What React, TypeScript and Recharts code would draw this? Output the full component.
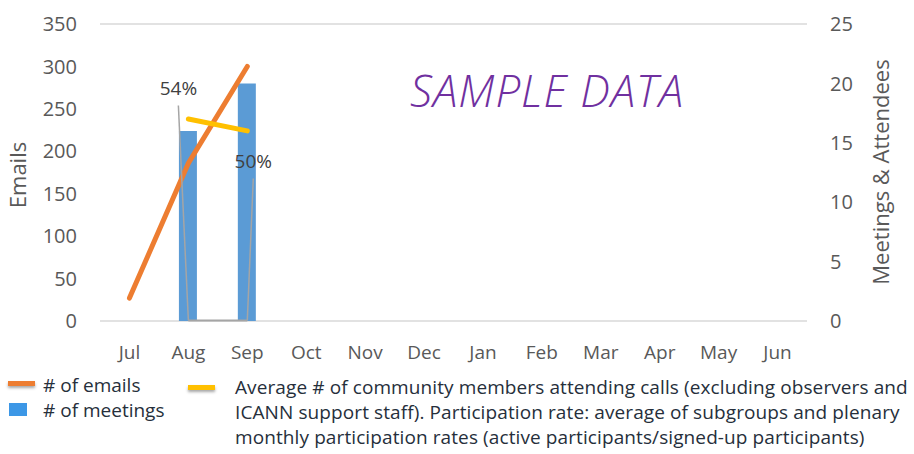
import React from 'react';
import { ComposedChart, Bar, Line, XAxis, YAxis, CartesianGrid, LabelList } from 'recharts';

const months = ['Jul', 'Aug', 'Sep', 'Oct', 'Nov', 'Dec', 'Jan', 'Feb', 'Mar', 'Apr', 'May', 'Jun'];
const emails: (number | null)[] = [27, 186, 300, null, null, null, null, null, null, null, null, null];
const meetings: (number | null)[] = [null, 16, 20, null, null, null, null, null, null, null, null, null];
const attendees: (number | null)[] = [null, 17, 16, null, null, null, null, null, null, null, null, null];
const participation: (number | null)[] = [null, 0.54, 0.5, null, null, null, null, null, null, null, null, null];
const emailTicks = [0, 50, 100, 150, 200, 250, 300, 350];
const meetingTicks = [0, 5, 10, 15, 20, 25];

const legendEmails = '# of emails';
const legendMeetings = '# of meetings';
const legendAttendLines = [
  'Average # of community members attending calls (excluding observers and',
  'ICANN support staff). Participation rate: average of subgroups and plenary',
  'monthly participation rates (active participants/signed-up participants)',
];

const data = months.map((m, i) => ({
  month: m,
  emails: emails[i],
  meetings: meetings[i],
  attendees: attendees[i],
  participation: participation[i],
}));

const FONT = "'Open Sans', 'Noto Sans', sans-serif";
const LEGEND_FONT = "'Open Sans', sans-serif";

// label placement (leader lines like Excel callouts)
const calloutOffsets: Record<number, { dx: number; dy: number }> = {
  1: { dx: -10, dy: -215 },
  2: { dx: 6, dy: -142 },
};

const RateLabel = (props: any) => {
  const { x, y, value, index } = props;
  if (value == null || x == null) return null;
  const off = calloutOffsets[index] || { dx: 0, dy: -20 };
  const lx = x + off.dx;
  const ly = y + off.dy;
  return (
    <g>
      <line x1={lx} y1={ly} x2={x} y2={y} stroke="#A5A5A5" strokeWidth={1.5} />
      <text x={lx} y={ly - 11} textAnchor="middle" fill="#404040" fontSize={19} fontFamily={FONT}>
        {`${Math.round(value * 100)}%`}
      </text>
    </g>
  );
};

export default function App() {
  return (
    <div style={{ position: 'absolute', left: 0, top: 0, width: 914, height: 454, background: '#fff' }}>
      <ComposedChart
        width={914}
        height={454}
        data={data}
        margin={{ top: 24, right: 0, bottom: 0, left: 0 }}
      >
        <CartesianGrid vertical={false} stroke="#D9D9D9" strokeWidth={1.5} />
        <XAxis
          dataKey="month"
          axisLine={false}
          tickLine={false}
          tickSize={0}
          tickMargin={25}
          height={133}
          interval={0}
          tick={{ fill: '#595959', fontSize: 19, fontFamily: FONT }}
        />
        <YAxis
          yAxisId="left"
          orientation="left"
          domain={[0, 350]}
          ticks={emailTicks}
          width={100}
          axisLine={false}
          tickLine={false}
          tickSize={0}
          tickMargin={23}
          tick={{ fill: '#595959', fontSize: 20, fontFamily: FONT }}
        />
        <YAxis
          yAxisId="right"
          orientation="right"
          domain={[0, 25]}
          ticks={meetingTicks}
          width={107}
          axisLine={false}
          tickLine={false}
          tickSize={0}
          tickMargin={23}
          tick={{ fill: '#595959', fontSize: 20, fontFamily: FONT }}
        />
        <Bar yAxisId="right" dataKey="meetings" fill="#5B9BD5" barSize={18} isAnimationActive={false} />
        <Line
          yAxisId="left"
          dataKey="participation"
          stroke="#A5A5A5"
          strokeWidth={2}
          dot={false}
          isAnimationActive={false}
        >
          <LabelList dataKey="participation" content={<RateLabel />} />
        </Line>
        <Line
          yAxisId="left"
          dataKey="emails"
          stroke="#ED7D31"
          strokeWidth={5}
          strokeLinecap="round"
          dot={false}
          isAnimationActive={false}
        />
        <Line
          yAxisId="right"
          dataKey="attendees"
          stroke="#FFC000"
          strokeWidth={5}
          strokeLinecap="round"
          dot={false}
          isAnimationActive={false}
        />
      </ComposedChart>

      <div
        style={{
          position: 'absolute',
          left: 17,
          top: 175,
          transform: 'translate(-50%, -50%) rotate(-90deg)',
          fontFamily: FONT,
          fontSize: 22,
          color: '#595959',
          whiteSpace: 'nowrap',
        }}
      >
        Emails
      </div>
      <div
        style={{
          position: 'absolute',
          left: 880,
          top: 172,
          transform: 'translate(-50%, -50%) rotate(-90deg)',
          fontFamily: FONT,
          fontSize: 22,
          color: '#595959',
          whiteSpace: 'nowrap',
        }}
      >
        Meetings &amp; Attendees
      </div>
      <div
        style={{
          position: 'absolute',
          left: 410,
          top: 90,
          transform: 'translateY(-50%)',
          fontFamily: FONT,
          fontStyle: 'italic',
          fontWeight: 300,
          fontSize: 44,
          letterSpacing: 1,
          color: '#7030A0',
          whiteSpace: 'nowrap',
          lineHeight: 1,
        }}
      >
        SAMPLE DATA
      </div>

      {/* Legend */}
      <div style={{ position: 'absolute', left: 8, top: 381, width: 27, height: 5, background: '#ED7D31', boxShadow: '0 2px 3px rgba(0,0,0,0.35)' }} />
      <div style={{ position: 'absolute', left: 43, top: 385, transform: 'translateY(-50%)', fontFamily: LEGEND_FONT, fontSize: 19, color: '#262F3B', whiteSpace: 'nowrap', lineHeight: 1 }}>
        {legendEmails}
      </div>
      <div style={{ position: 'absolute', left: 9, top: 403, width: 18, height: 13, background: '#3C97E6' }} />
      <div style={{ position: 'absolute', left: 43, top: 410, transform: 'translateY(-50%)', fontFamily: LEGEND_FONT, fontSize: 19, color: '#262F3B', whiteSpace: 'nowrap', lineHeight: 1 }}>
        {legendMeetings}
      </div>
      <div style={{ position: 'absolute', left: 188, top: 385, width: 27, height: 5, background: '#FFC000', boxShadow: '0 2px 3px rgba(0,0,0,0.35)' }} />
      <div style={{ position: 'absolute', left: 235, top: 375, fontFamily: LEGEND_FONT, fontSize: 19, letterSpacing: 0.1, color: '#262F3B', whiteSpace: 'nowrap', lineHeight: '25px' }}>
        {legendAttendLines.map((l, i) => (
          <div key={i}>{l}</div>
        ))}
      </div>
    </div>
  );
}
